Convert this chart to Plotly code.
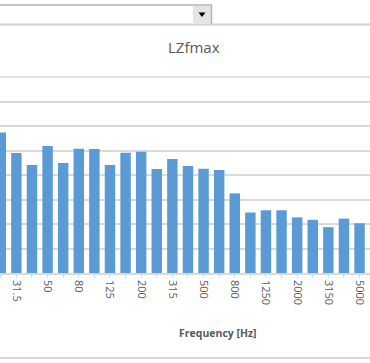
import plotly.graph_objects as go

freqs = ["25", "31.5", "40", "50", "63", "80", "100", "125", "160", "200", "250", "315",
         "400", "500", "630", "800", "1000", "1250", "1600", "2000", "2500", "3150",
         "4000", "5000", "6300"]
lzfmax = [57.3, 49.0, 44.1, 51.8, 44.9, 50.7, 50.6, 44.1, 49.1, 49.5, 42.4, 46.5,
          43.7, 42.6, 42.0, 32.5, 24.7, 25.6, 25.6, 22.7, 21.7, 18.7,
          22.2, 20.3, 20.4]
tick_labels = [f if i % 2 == 1 else "" for i, f in enumerate(freqs)]

W, H = 370, 363
PT, PB = 77, 273  # plot area top/bottom in px


def py(y):
    return (PB - y) / (PB - PT)


def px(x):
    return x / W


fig = go.Figure(go.Bar(x=freqs, y=lzfmax, marker=dict(color="#5B9BD5", line=dict(width=0))))

shapes = [
    dict(type="line", xref="paper", yref="paper", x0=px(0), x1=px(212), y0=py(5), y1=py(5),
         line=dict(color="#C6C6C6", width=2)),
    dict(type="rect", xref="paper", yref="paper", x0=px(193), x1=px(211), y0=py(6), y1=py(23),
         fillcolor="#E4E4E4", line=dict(width=0)),
    dict(type="line", xref="paper", yref="paper", x0=px(211.5), x1=px(211.5), y0=py(5), y1=py(24),
         line=dict(color="#B5B5B5", width=1.5)),
    dict(type="path", xref="paper", yref="paper",
         path=f"M {px(198.5)} {py(12.5)} L {px(205.5)} {py(12.5)} L {px(202)} {py(17)} Z",
         fillcolor="#000000", line=dict(width=0)),
    dict(type="line", xref="paper", yref="paper", x0=0, x1=1, y0=py(24.5), y1=py(24.5),
         line=dict(color="#D0D0D0", width=2)),
    dict(type="line", xref="paper", yref="paper", x0=0, x1=1, y0=py(358), y1=py(358),
         line=dict(color="#D9D9D9", width=2)),
    dict(type="line", xref="paper", yref="paper", x0=0, x1=1, y0=1, y1=1,
         line=dict(color="#D9D9D9", width=1.5)),
]

annotations = [
    dict(text="LZfmax", xref="paper", yref="paper", x=px(194.5), y=py(47), showarrow=False,
         xanchor="center", yanchor="middle",
         font=dict(family="Open Sans", size=15, color="#595959")),
    dict(text="<b>Frequency [Hz]</b>", xref="paper", yref="paper", x=px(218), y=py(333),
         showarrow=False, xanchor="center", yanchor="middle",
         font=dict(family="Open Sans", size=10.5, color="#595959")),
]

fig.update_layout(
    width=W, height=H,
    margin=dict(l=0, r=0, t=PT, b=H - PB, pad=0),
    paper_bgcolor="white", plot_bgcolor="white",
    showlegend=False,
    bargap=0.33,
    shapes=shapes,
    annotations=annotations,
    xaxis=dict(
        type="category",
        range=[-0.05, 23.67],
        tickmode="array", tickvals=freqs, ticktext=tick_labels,
        tickangle=90,
        ticks="outside", ticklen=3, tickcolor="#D9D9D9",
        tickfont=dict(family="Open Sans", size=11, color="#595959"),
        showline=True, linecolor="#D9D9D9", linewidth=1.5,
        showgrid=False, zeroline=False,
    ),
    yaxis=dict(
        range=[0, 80], dtick=10,
        showgrid=True, gridcolor="#D9D9D9", gridwidth=1.5,
        showticklabels=False, zeroline=False, showline=False,
    ),
)

fig.write_html("out.html", config={"displayModeBar": False},
               post_script="document.body.style.margin='0';document.body.style.overflow='hidden';")
